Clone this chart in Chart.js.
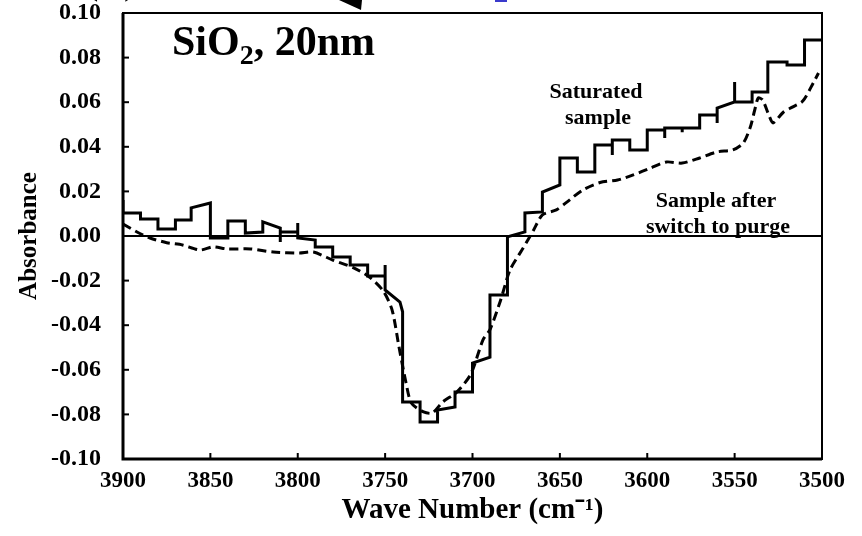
<!DOCTYPE html>
<html lang="en">
<head>
  <meta charset="UTF-8">
  <title>Absorbance - SiO2, 20nm</title>
  <style>
    html, body { margin: 0; padding: 0; background: #fff; }
    #wrap { width: 862px; height: 536px; }
  </style>
</head>
<body>
  <div id="wrap"><canvas id="chart" width="862" height="536"></canvas></div>

  <script src="https://cdn.jsdelivr.net/npm/chart.js@4/dist/chart.umd.min.js"></script>
  <script>
    // Saturated sample (solid, stepped trace)
    const satWave = [3900,3900,3890,3890,3880,3880,3870,3870,3861,3861,3850,3850,3840,3840,3830,3830,3820,3820,3810,3810,
      3810,3800,3800,3800,3790,3790,3780,3780,3770,3770,3760,3760,3750,3750,3750,3741.5,3740,3740,3730,3730,
      3720,3720,3710,3710,3700,3700,3690,3690,3680,3680,3670,3670,3660,3660,3650,3650,3640,3640,3630,3630,
      3620,3620,3620,3610,3610,3600,3600,3590,3590,3590,3580,3580,3580,3570,3570,3560,3560,3560,3550,3550,
      3550,3540,3540,3531,3531,3520,3520,3510,3510,3500];
    const satAbs = [0.0161,0.0103,0.0103,0.0076,0.0076,0.0031,0.0031,0.0072,0.0072,0.0126,0.0148,-0.0009,-0.0009,0.0067,0.0067,0.0013,0.0018,0.0063,0.0036,-0.0027,
      0.0018,0.0018,0.0058,-0.0009,-0.0018,-0.0049,-0.0049,-0.0094,-0.0094,-0.0130,-0.0130,-0.0179,-0.0179,-0.0130,-0.0242,-0.0296,-0.0340,-0.0744,-0.0744,-0.0834,
      -0.0834,-0.0780,-0.0767,-0.0700,-0.0700,-0.0570,-0.0543,-0.0265,-0.0265,-0.0004,0.0018,0.0103,0.0108,0.0197,0.0229,0.0350,0.0350,0.0287,0.0287,0.0408,
      0.0408,0.0363,0.0430,0.0430,0.0386,0.0386,0.0475,0.0475,0.0440,0.0484,0.0484,0.0465,0.0484,0.0484,0.0543,0.0543,0.0507,0.0574,0.0601,0.0691,
      0.0601,0.0601,0.0646,0.0646,0.0780,0.0780,0.0767,0.0767,0.0879,0.0879];

    // Sample after switch to purge (dashed, smooth trace)
    const purgeWave = [3900,3892,3884.5,3875,3866,3856,3848.5,3840.5,3827,3814,3799,3791,3780,3768,3759,3751,3746,3742,3738,3735,
      3728,3723,3717,3709,3701,3694,3690,3684,3678.5,3671,3665,3660,3652,3646,3637,3627,3617,3608,3598,3589,
      3580,3570,3560,3551,3545,3541,3538.5,3536.5,3534,3530,3528,3522,3517,3511,3505,3502];
    const purgeAbs = [0.0054,0.0018,-0.0009,-0.0030,-0.0040,-0.0063,-0.0049,-0.0058,-0.0058,-0.0072,-0.0076,-0.0072,-0.0108,-0.0143,-0.0184,-0.0247,-0.0332,-0.0500,-0.0660,-0.0749,
      -0.0789,-0.0794,-0.0744,-0.0700,-0.0620,-0.0466,-0.0420,-0.0290,-0.0152,-0.0054,0.0027,0.0095,0.0117,0.0152,0.0206,0.0240,0.0251,0.0274,0.0305,0.0332,
      0.0327,0.0350,0.0377,0.0386,0.0417,0.0489,0.0565,0.0619,0.0610,0.0534,0.0507,0.0556,0.0578,0.0605,0.0686,0.0731];

    const xTicks = [3900, 3850, 3800, 3750, 3700, 3650, 3600, 3550, 3500];
    const yTicks = [-0.10, -0.08, -0.06, -0.04, -0.02, 0.00, 0.02, 0.04, 0.06, 0.08, 0.10];

    const SERIF = "'Liberation Serif', 'Times New Roman', serif";

    // cadre, graduations intérieures, ligne du zéro et annotations
    const decor = {
      id: 'decor',
      beforeDatasetsDraw(chart) {
        const { ctx, chartArea: a, scales: { x, y } } = chart;
        ctx.save();
        ctx.strokeStyle = '#000';
        // zero line
        const y0 = y.getPixelForValue(0);
        ctx.lineWidth = 2;
        ctx.beginPath(); ctx.moveTo(a.left, y0); ctx.lineTo(a.right, y0); ctx.stroke();
        // inner ticks
        yTicks.forEach(v => {
          const py = y.getPixelForValue(v);
          ctx.beginPath(); ctx.moveTo(a.left, py); ctx.lineTo(a.left + 6, py); ctx.stroke();
        });
        xTicks.forEach(v => {
          const px = x.getPixelForValue(v);
          ctx.beginPath(); ctx.moveTo(px, a.bottom); ctx.lineTo(px, a.bottom - 6); ctx.stroke();
        });
        ctx.restore();
      },
      afterDraw(chart) {
        const { ctx, chartArea: a } = chart;
        ctx.save();
        // frame
        ctx.strokeStyle = '#000';
        ctx.lineWidth = 2;
        ctx.strokeRect(a.left, a.top, a.right - a.left, a.bottom - a.top);
        ctx.lineWidth = 3;
        ctx.beginPath(); ctx.moveTo(a.left, a.top); ctx.lineTo(a.left, a.bottom); ctx.lineTo(a.right, a.bottom); ctx.stroke();

        ctx.fillStyle = '#000';
        // SiO2, 20nm
        ctx.textBaseline = 'alphabetic';
        ctx.textAlign = 'left';
        ctx.font = `bold 42px ${SERIF}`;
        let tx = 172;
        ctx.fillText('SiO', tx, 55);
        tx += ctx.measureText('SiO').width;
        ctx.font = `bold 28px ${SERIF}`;
        ctx.fillText('2', tx, 64);
        tx += ctx.measureText('2').width;
        ctx.font = `bold 42px ${SERIF}`;
        ctx.fillText(', 20nm', tx, 55);

        // curve labels
        ctx.textAlign = 'center';
        ctx.font = `bold 22px ${SERIF}`;
        ctx.fillText('Saturated', 596, 98);
        ctx.fillText('sample', 598, 124);
        ctx.fillText('Sample after', 716, 207);
        ctx.fillText('switch to purge', 718, 233);

        // cut-off bits at the top edge
        ctx.font = `bold 50px ${SERIF}`;
        ctx.textAlign = 'left';
        ctx.fillText('(a)', 82, -9);
        ctx.beginPath();
        ctx.moveTo(339, 0); ctx.lineTo(362, 0); ctx.lineTo(361, 10); ctx.closePath();
        ctx.fill();
        ctx.fillStyle = '#3a3acc';
        ctx.fillRect(495, 0, 12, 2);
        ctx.restore();
      }
    };

    const ctx = document.getElementById('chart').getContext('2d');
    new Chart(ctx, {
      type: 'line',
      data: {
        datasets: [
          {
            label: 'Saturated sample',
            data: satWave.map((w, i) => ({ x: w, y: satAbs[i] })),
            borderColor: '#000',
            borderWidth: 3,
            pointRadius: 0,
            tension: 0,
            borderJoinStyle: 'miter'
          },
          {
            label: 'Sample after switch to purge',
            data: purgeWave.map((w, i) => ({ x: w, y: purgeAbs[i] })),
            borderColor: '#000',
            borderWidth: 3,
            borderDash: [9, 5],
            pointRadius: 0,
            tension: 0.25
          }
        ]
      },
      options: {
        responsive: false,
        animation: false,
        layout: { padding: { top: 13, right: 40, left: 0, bottom: 0 } },
        plugins: { legend: { display: false }, tooltip: { enabled: false } },
        scales: {
          x: {
            type: 'linear',
            reverse: true,
            min: 3500,
            max: 3900,
            afterBuildTicks: s => { s.ticks = xTicks.map(v => ({ value: v })); },
            afterFit: s => { s.height = 77; s.paddingLeft = 0; s.paddingRight = 0; },
            grid: { display: false, drawTicks: false },
            border: { display: false },
            ticks: {
              color: '#000',
              padding: 8,
              maxRotation: 0,
              autoSkip: false,
              font: { family: SERIF, size: 23, weight: 'bold' },
              callback: v => String(v)
            },
            title: {
              display: true,
              text: 'Wave Number (cm⁻¹)',
              color: '#000',
              padding: { top: 0, bottom: 8 },
              font: { family: SERIF, size: 29, weight: 'bold' }
            }
          },
          y: {
            min: -0.1,
            max: 0.1,
            afterBuildTicks: s => { s.ticks = yTicks.map(v => ({ value: v })); },
            afterFit: s => { s.width = 123; s.paddingTop = 0; s.paddingBottom = 0; },
            grid: { display: false, drawTicks: false },
            border: { display: false },
            ticks: {
              color: '#000',
              padding: 22,
              autoSkip: false,
              font: { family: SERIF, size: 24, weight: 'bold' },
              callback: v => (Math.abs(v) < 1e-9 ? 0 : v).toFixed(2)
            },
            title: {
              display: true,
              text: 'Absorbance',
              color: '#000',
              padding: { top: 15, bottom: 0 },
              font: { family: SERIF, size: 25, weight: 'bold' }
            }
          }
        }
      },
      plugins: [decor]
    });
  </script>
</body>
</html>
